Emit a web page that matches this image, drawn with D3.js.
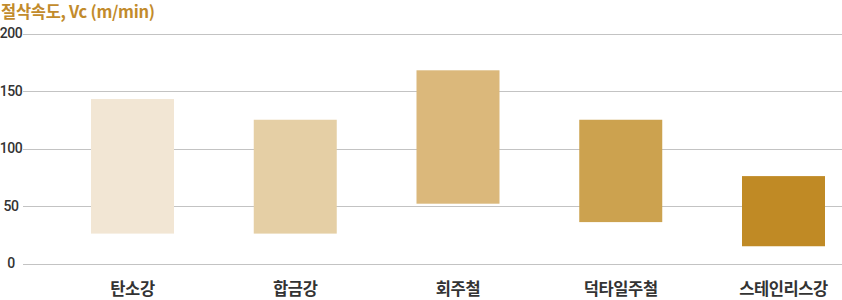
<!DOCTYPE html>
<html><head><meta charset="utf-8">
<script src="https://cdn.jsdelivr.net/npm/d3@7"></script>
<style>
html,body{margin:0;padding:0;background:#fff;}
svg{display:block;}
</style></head>
<body>
<svg id="chart" width="842" height="300"></svg>
<script>
const categories = ["탄소강", "합금강", "회주철", "덕타일주철", "스테인리스강"];
const lowValues  = [26, 26, 52, 36, 15];
const highValues = [143, 125, 168, 125, 76];
const barColors  = ["#f2e6d4", "#e5cfa5", "#dbb87b", "#cca24f", "#c08a25"];
const yTicks     = [0, 50, 100, 150, 200];
const yTitle     = "절삭속도, Vc (m/min)";

const svg = d3.select("#chart");
const font = "'Noto Sans CJK KR','Noto Sans',sans-serif";

const y = d3.scaleLinear().domain([0, 200]).range([263.5, 33.5]);
const x = d3.scaleBand().domain(categories).range([91, 825]).paddingInner(0.49).paddingOuter(0);

// gridlines
const grid = svg.append("g");
grid.selectAll("line").data(yTicks).join("line")
  .attr("x1", 23).attr("x2", 842)
  .attr("y1", d => Math.round(y(d)) + 0.5).attr("y2", d => Math.round(y(d)) + 0.5)
  .attr("stroke", "#c3c3c3").attr("stroke-width", 1);

// y tick labels
svg.append("g").selectAll("text").data(yTicks).join("text")
  .attr("x", 11).attr("y", d => y(d)).attr("dy", "0.35em")
  .attr("text-anchor", "middle")
  .attr("font-family", "Roboto, 'Noto Sans', sans-serif")
  .attr("font-size", 14).attr("font-weight", 500)
  .attr("letter-spacing", "-0.4px")
  .attr("fill", "#333").text(d => d);

// bars
svg.append("g").selectAll("rect").data(categories).join("rect")
  .attr("x", d => x(d))
  .attr("width", x.bandwidth())
  .attr("y", (d, i) => y(highValues[i]))
  .attr("height", (d, i) => y(lowValues[i]) - y(highValues[i]))
  .attr("fill", (d, i) => barColors[i]);

// x labels
svg.append("g").selectAll("text").data(categories).join("text")
  .attr("x", d => x(d) + x.bandwidth() / 2)
  .attr("y", 295)
  .attr("text-anchor", "middle")
  .attr("font-family", font)
  .attr("font-size", 16.5).attr("font-weight", 700)
  .attr("letter-spacing", "-0.4px")
  .attr("fill", "#333").text(d => d);

// title
svg.append("text")
  .attr("x", 1).attr("y", 18)
  .attr("font-family", font)
  .attr("font-size", 16.5).attr("font-weight", 700)
  .attr("letter-spacing", "-0.3px")
  .attr("fill", "#c28b2c").text(yTitle);
</script>
</body></html>
